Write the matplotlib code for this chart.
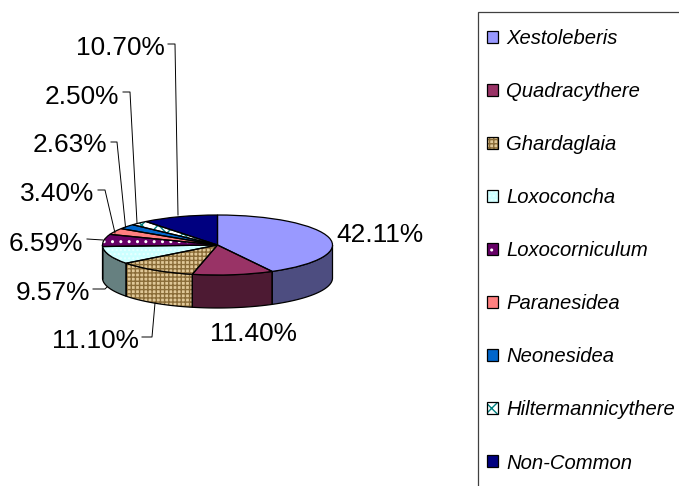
import numpy as np
import matplotlib
matplotlib.use('Agg')
import matplotlib.pyplot as plt
from matplotlib.patches import Patch, Polygon, Rectangle
from matplotlib.lines import Line2D
from matplotlib.legend_handler import HandlerTuple

plt.rcParams['font.family'] = ['Liberation Sans', 'DejaVu Sans']
plt.rcParams['hatch.linewidth'] = 1.0

categories = ['Xestoleberis', 'Quadracythere', 'Ghardaglaia', 'Loxoconcha', 'Loxocorniculum',
              'Paranesidea', 'Neonesidea', 'Hiltermannicythere', 'Non-Common']
values = [42.11, 11.40, 11.10, 9.57, 6.59, 3.40, 2.63, 2.50, 10.70]
labels = ['42.11%', '11.40%', '11.10%', '9.57%', '6.59%', '3.40%', '2.63%', '2.50%', '10.70%']
faces = ['#9999ff', '#993366', '#e0c898', '#ccffff', '#660066', '#ff8080', '#0066cc', '#ffffff', '#000080']
walls = ['#4d4d80', '#4d1a33', '#e0c898', '#668080', '#330033', '#804040', '#003366', '#808080', '#000040']
hatch_colors = ['none', 'none', '#8a6c38', '#e8ffff', '#ffffff', 'none', 'none', '#008080', 'none']
hatches = [None, None, '++++', '....', '..', None, None, 'xx', None]

W, H = 679, 486
cx, cy, rx, ry, depth = 217.5, 245.0, 115.0, 30.0, 33.0

fig = plt.figure(figsize=(W / 100, H / 100), dpi=100)
ax = fig.add_axes([0, 0, 1, 1])

def place(a):
    a.set_xlim(-cx / rx, (W - cx) / rx)
    a.set_ylim(-(H - cy) / ry, cy / ry)
    a.set_aspect('auto')
    a.axis('off')

# top face, through the pie scale (hatch layer, then outline)
wedges, _ = ax.pie(values, colors=faces, startangle=90, counterclock=False, radius=1,
                   wedgeprops=dict(linewidth=0))
for w, hc, h in zip(wedges, hatch_colors, hatches):
    w.set_edgecolor(hc)
    w.set_hatch(h)
    w.set_linewidth(0)
    w.set_zorder(3)
ax.pie(values, colors=['none'] * len(values), startangle=90, counterclock=False, radius=1,
       wedgeprops=dict(linewidth=0.9, edgecolor='black', zorder=4))
place(ax)

# side wall of the front half, from the same values
dy = depth / ry
edges = 360 * np.cumsum([0] + values) / np.sum(values)   # clockwise from top
for i in range(len(values)):
    a0, a1 = max(edges[i], 90), min(edges[i + 1], 270)
    if a1 <= a0:
        continue
    t = np.radians(np.linspace(a0, a1, 50))
    x, y = np.sin(t), np.cos(t)
    pts = np.r_[np.c_[x, y], np.c_[x[::-1], y[::-1] - dy]]
    kw = dict(hatch=hatches[i], edgecolor=hatch_colors[i], linewidth=0) if i == 2 else dict(linewidth=0)
    ax.add_patch(Polygon(pts, closed=True, facecolor=walls[i], zorder=1, **kw))
    ax.add_patch(Polygon(pts, closed=True, facecolor='none', edgecolor='black', linewidth=0.9, zorder=2))

def px(x, y):
    return x / W, 1 - y / H

# data labels
label_pos = [(380, 235), (253, 334), (95.5, 341), (52.5, 293), (46, 244),
             (57.5, 194), (69.5, 145), (82, 97), (120, 48)]
for s, (x, y) in zip(labels, label_pos):
    fx, fy = px(x, y)
    fig.text(fx, fy, s, fontsize=18.9, ha='center', va='center', color='black')

# leader lines
leaders = [[(142, 337), (152, 337), (155, 303)],
           [(93, 289), (105, 289), (107, 287)],
           [(87, 239), (103, 240)],
           [(98, 190), (105, 190), (115, 233)],
           [(111, 142), (117, 142), (125.5, 227)],
           [(123, 92), (130, 92), (137, 223)],
           [(168, 44), (175, 44), (178, 215)]]
for seg in leaders:
    p = np.array([px(*q) for q in seg])
    fig.add_artist(Line2D(p[:, 0], p[:, 1], color='black', lw=0.7))

# legend frame runs off the right and bottom of the picture
x0, y1 = px(478, 530)
fig.add_artist(Rectangle((x0, y1), 300 / W, (530 - 12) / H, transform=fig.transFigure,
                         facecolor='none', edgecolor='#404040', linewidth=0.9))

handles = []
for f, hc, h in zip(faces, hatch_colors, hatches):
    handles.append((Patch(facecolor=f, edgecolor=hc, hatch=h, linewidth=0),
                    Patch(facecolor='none', edgecolor='black', linewidth=0.9)))
leg = ax.legend(handles, categories, handler_map={tuple: HandlerTuple(ndivide=1, pad=0)},
                loc='upper left', bbox_to_anchor=px(487, 29), bbox_transform=fig.transFigure,
                prop=dict(family='Liberation Sans', style='italic', size=14.6),
                frameon=False, borderaxespad=0, borderpad=0, labelspacing=1.68,
                handlelength=0.54, handleheight=0.54, handletextpad=0.4)
fig.savefig('out.png', dpi=100)
